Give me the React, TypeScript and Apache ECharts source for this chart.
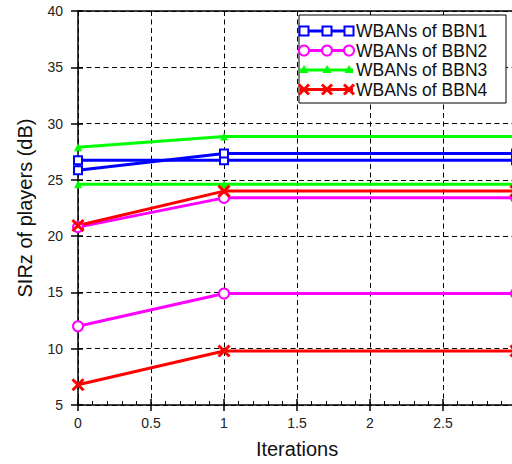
import React, { useEffect, useRef } from "react";
import * as echarts from "echarts";

const iterations = [0, 1, 3];
const bbn1a = [26.75, 26.75, 26.75];
const bbn1b = [25.85, 27.35, 27.35];
const bbn2a = [20.8, 23.4, 23.4];
const bbn2b = [12.0, 14.9, 14.9];
const bbn3a = [27.9, 28.85, 28.85];
const bbn3b = [24.6, 24.6, 24.6];
const bbn4a = [20.95, 24.0, 24.0];
const bbn4b = [6.8, 9.8, 9.8];
const legendNames = ["WBANs of BBN1", "WBANs of BBN2", "WBANs of BBN3", "WBANs of BBN4"];
const colors = ["#0000ff", "#ff00ff", "#00ff00", "#ff0000"];

const FONT = "Liberation Sans, Arial, Helvetica, sans-serif";
const CROSS = "path://M0,0L10,10M10,0L0,10";

function pts(vals: number[]) {
  return iterations.map((x, i) => [x, vals[i]]);
}

function mk(k: number) {
  const c = colors[k];
  if (k === 0) return { symbol: "rect", symbolSize: 8, itemStyle: { color: "#fff", borderColor: c, borderWidth: 2 } };
  if (k === 1) return { symbol: "circle", symbolSize: 10, itemStyle: { color: "#fff", borderColor: c, borderWidth: 2 } };
  if (k === 2) return { symbol: "triangle", symbolSize: 8, itemStyle: { color: c, borderColor: c, borderWidth: 0 } };
  return { symbol: CROSS, symbolSize: 11, itemStyle: { color: c, borderColor: c, borderWidth: 3 } };
}

function series(name: string, k: number, vals: number[]) {
  return {
    type: "line",
    name,
    data: pts(vals),
    xAxisIndex: 0,
    yAxisIndex: 0,
    showAllSymbol: true,
    lineStyle: { color: colors[k], width: 3 },
    ...mk(k),
    emphasis: { disabled: true },
  };
}

function legendGraphic() {
  const els: any[] = [];
  els.push({
    type: "rect",
    shape: { x: 299, y: 15, width: 207, height: 88 },
    style: { fill: "#fff", stroke: "#000", lineWidth: 1 },
    z: 100,
  });
  const ys = [31, 50.5, 70, 89.5];
  const mxs = [304, 327, 349];
  ys.forEach((y, k) => {
    const c = colors[k];
    els.push({
      type: "line",
      shape: { x1: 300, y1: y, x2: 353, y2: y },
      style: { stroke: c, lineWidth: 3 },
      z: 101,
    });
    mxs.forEach((mx) => {
      if (k === 0) {
        els.push({ type: "rect", shape: { x: mx - 4.5, y: y - 4.5, width: 9, height: 9 }, style: { fill: "#fff", stroke: c, lineWidth: 2 }, z: 102 });
      } else if (k === 1) {
        els.push({ type: "circle", shape: { cx: mx, cy: y, r: 5 }, style: { fill: "#fff", stroke: c, lineWidth: 2 }, z: 102 });
      } else if (k === 2) {
        els.push({ type: "polygon", shape: { points: [[mx, y - 5], [mx + 4.5, y + 3], [mx - 4.5, y + 3]] }, style: { fill: c }, z: 102 });
      } else {
        els.push({ type: "line", shape: { x1: mx - 5, y1: y - 5, x2: mx + 5, y2: y + 5 }, style: { stroke: c, lineWidth: 3 }, z: 102 });
        els.push({ type: "line", shape: { x1: mx + 5, y1: y - 5, x2: mx - 5, y2: y + 5 }, style: { stroke: c, lineWidth: 3 }, z: 102 });
      }
    });
    els.push({
      type: "text",
      x: 356,
      y: y,
      style: { text: legendNames[k], font: `17.5px ${FONT}`, fill: "#111", textVerticalAlign: "middle", verticalAlign: "middle" },
      z: 102,
    });
  });
  return els;
}

export default function App() {
  const ref = useRef<HTMLDivElement>(null);
  useEffect(() => {
    if (!ref.current) return;
    const chart = echarts.init(ref.current, undefined, { renderer: "svg" });
    const grid = { left: 78, right: 24, top: 11, bottom: 55 };
    const splitDash = { show: true, lineStyle: { color: "#000", width: 1, type: [5, 3.5] } };
    chart.setOption({
      animation: false,
      backgroundColor: "#fff",
      grid,
      textStyle: { fontFamily: FONT },
      xAxis: [
        {
          type: "value",
          min: 0,
          max: 3,
          interval: 0.5,
          position: "bottom",
          name: "Iterations",
          nameLocation: "middle",
          nameGap: 34,
          nameTextStyle: { fontSize: 20, color: "#111", fontFamily: FONT },
          axisLine: { show: true, onZero: false, lineStyle: { color: "#000", width: 1.5 } },
          axisTick: { show: true, length: 6, inside: false, lineStyle: { color: "#000", width: 1.5 } },
          axisLabel: { fontSize: 14, color: "#222", margin: 11, fontFamily: FONT, showMaxLabel: true },
          splitLine: splitDash,
        },
        {
          type: "value",
          min: 0,
          max: 3,
          interval: 0.5,
          position: "bottom",
          axisLine: { show: false },
          axisTick: { show: true, length: 6, inside: true, lineStyle: { color: "#000", width: 1.5 } },
          minorTick: { show: true, splitNumber: 5, length: 4, lineStyle: { color: "#000", width: 1 } },
          axisLabel: { show: false },
          splitLine: { show: false },
        },
        {
          type: "value",
          min: 0,
          max: 3,
          interval: 0.5,
          position: "top",
          axisLine: { show: true, onZero: false, lineStyle: { color: "#000", width: 1.5 } },
          axisTick: { show: false },
          axisLabel: { show: false },
          splitLine: { show: false },
        },
      ],
      yAxis: [
        {
          type: "value",
          min: 5,
          max: 40,
          interval: 5,
          position: "left",
          name: "SIRz of players (dB)",
          nameLocation: "middle",
          nameGap: 43,
          nameTextStyle: { fontSize: 20, color: "#111", fontFamily: FONT },
          axisLine: { show: true, onZero: false, lineStyle: { color: "#000", width: 1.5 } },
          axisTick: { show: true, length: 7, inside: false, lineStyle: { color: "#000", width: 1.5 } },
          axisLabel: { fontSize: 14, color: "#222", margin: 15, fontFamily: FONT },
          splitLine: splitDash,
        },
        {
          type: "value",
          min: 5,
          max: 40,
          interval: 5,
          position: "left",
          axisLine: { show: false },
          axisTick: { show: true, length: 5, inside: true, lineStyle: { color: "#000", width: 1.5 } },
          axisLabel: { show: false },
          splitLine: { show: false },
        },
      ],
      series: [
        series("WBANs of BBN1", 0, bbn1a),
        series("WBANs of BBN1 ", 0, bbn1b),
        series("WBANs of BBN2", 1, bbn2a),
        series("WBANs of BBN2 ", 1, bbn2b),
        series("WBANs of BBN3", 2, bbn3a),
        series("WBANs of BBN3 ", 2, bbn3b),
        series("WBANs of BBN4", 3, bbn4a),
        series("WBANs of BBN4 ", 3, bbn4b),
      ],
      graphic: legendGraphic(),
    });
    return () => chart.dispose();
  }, []);
  return (
    <div style={{ position: "absolute", left: 0, top: 0, width: 512, height: 464, overflow: "hidden", background: "#fff" }}>
      <div ref={ref} style={{ width: 540, height: 464 }} />
    </div>
  );
}
